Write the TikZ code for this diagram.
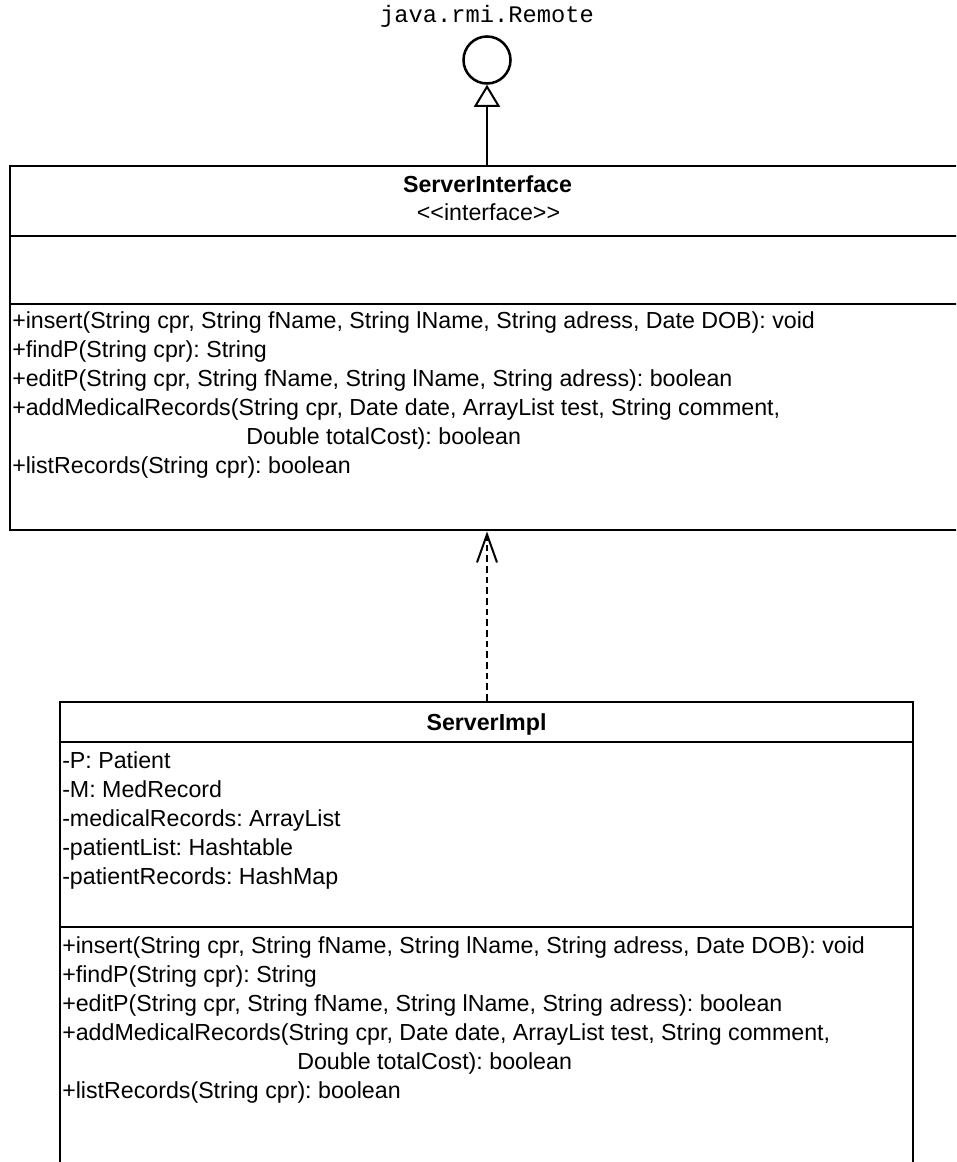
\documentclass[tikz,border=0pt]{standalone}
\usepackage{fontspec}
\setmainfont{Liberation Sans}
\newfontfamily\umlmono{Liberation Mono}
\usetikzlibrary{arrows.meta,fit}
\frenchspacing
\begin{document}
\begin{tikzpicture}[x=0.75pt,y=-0.75pt,
  umlbox/.style={draw, line width=2.2pt, inner sep=0pt},
  divider/.style={line width=2.2pt},
  member/.style={anchor=base west, inner sep=0pt, font=\fontsize{17.4}{21}\selectfont},
  classname/.style={anchor=base, inner sep=0pt, font=\fontsize{17.4}{21}\selectfont\bfseries},
  stereo/.style={anchor=base, inner sep=0pt, font=\fontsize{17.4}{21}\selectfont},
  ifacename/.style={anchor=base, inner sep=0pt, font=\umlmono\fontsize{17.8}{21}\selectfont},
  lollipop/.style={circle, draw, line width=1.9pt, minimum size=35.25pt, inner sep=0pt},
  generalize/.style={line width=1.5pt, -{Triangle[open, length=16.5pt, width=19.5pt, line width=1.5pt]}},
  realize/.style={line width=1.5pt, dash pattern=on 5pt off 3pt, -{Straight Barb[length=21pt, width=15pt, line width=1.5pt]}}
]
\clip (0,0) rectangle (956,1162);
\fill[white] (0,0) rectangle (956,1162);

% java.rmi.Remote interface (lollipop)
\node[ifacename] (remotename) at (487,23) {java.rmi.Remote};
\node[lollipop] (remote) at (487,60) {};

% ServerInterface class box
\coordinate (ifaceNW) at (10,166);
\coordinate (ifaceSE) at (965,530);
\node[umlbox, fit=(ifaceNW)(ifaceSE)] (iface) {};
\draw[divider] (10,236) -- (965,236);
\draw[divider] (10,304) -- (965,304);
\node[classname] (ifacetitle) at (487.5,193) {ServerInterface};
\node[stereo] (ifacestereo) at (488.5,221) {{<}{<}interface{>}{>}};
\node[member] (im1) at (12,328) {+insert(String cpr, String fName, String lName, String adress, Date DOB): void};
\node[member] (im2) at (12,357) {+findP(String cpr): String};
\node[member] (im3) at (12,386) {+editP(String cpr, String fName, String lName, String adress): boolean};
\node[member] (im4) at (12,415) {+addMedicalRecords(String cpr, Date date, ArrayList test, String comment,};
\node[member] (im4b) at (246,444) {Double totalCost): boolean};
\node[member] (im5) at (12,473) {+listRecords(String cpr): boolean};

% ServerImpl class box
\coordinate (implNW) at (60,702);
\coordinate (implSE) at (913,1185);
\node[umlbox, fit=(implNW)(implSE)] (impl) {};
\draw[divider] (60,742) -- (913,742);
\draw[divider] (60,927) -- (913,927);
\node[classname] (impltitle) at (486.5,730) {ServerImpl};
\node[member] (ia1) at (62,768) {-P: Patient};
\node[member] (ia2) at (62,797) {-M: MedRecord};
\node[member] (ia3) at (62,826) {-medicalRecords: ArrayList};
\node[member] (ia4) at (62,855) {-patientList: Hashtable};
\node[member] (ia5) at (62,884) {-patientRecords: HashMap};
\node[member] (mm1) at (62,953) {+insert(String cpr, String fName, String lName, String adress, Date DOB): void};
\node[member] (mm2) at (62,982) {+findP(String cpr): String};
\node[member] (mm3) at (62,1011) {+editP(String cpr, String fName, String lName, String adress): boolean};
\node[member] (mm4) at (62,1040) {+addMedicalRecords(String cpr, Date date, ArrayList test, String comment,};
\node[member] (mm4b) at (297,1069) {Double totalCost): boolean};
\node[member] (mm5) at (62,1098) {+listRecords(String cpr): boolean};

% relations
\draw[generalize] (iface.north -| remote.south) -- (remote.south);
\draw[realize] (impl.north -| remote.south) -- (iface.south -| remote.south);
\end{tikzpicture}
\end{document}
